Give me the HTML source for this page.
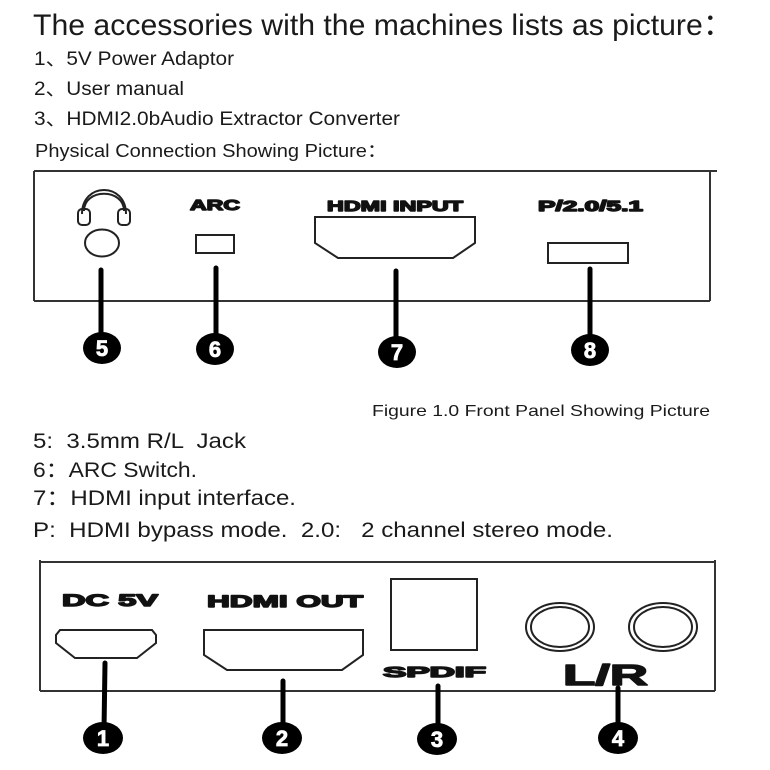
<!DOCTYPE html>
<html><head><meta charset="utf-8"><style>
html,body{margin:0;padding:0;background:#fff;}
svg{display:block;}
text{white-space:pre;}
.t{font-family:"Liberation Sans","Noto Sans CJK SC",sans-serif;fill:#1a1a1a;}
.b{font-family:"Liberation Sans",sans-serif;font-weight:bold;fill:#111;stroke:#111;stroke-width:1.4;stroke-linejoin:round;}
.n{font-family:"Liberation Sans",sans-serif;font-weight:bold;fill:#fff;font-size:22px;stroke:#fff;stroke-width:0.8;}
</style></head><body>
<svg width="770" height="770" viewBox="0 0 770 770" xmlns="http://www.w3.org/2000/svg">
<text class="t" x="33" y="35" font-size="30" textLength="700" lengthAdjust="spacingAndGlyphs">The accessories with the machines lists as picture：</text>
<text class="t" x="34" y="65" font-size="19" textLength="200" lengthAdjust="spacingAndGlyphs">1、5V Power Adaptor</text>
<text class="t" x="34" y="95" font-size="19" textLength="150" lengthAdjust="spacingAndGlyphs">2、User manual</text>
<text class="t" x="34" y="125" font-size="19" textLength="366" lengthAdjust="spacingAndGlyphs">3、HDMI2.0bAudio Extractor Converter</text>
<text class="t" x="35" y="157" font-size="18" textLength="352" lengthAdjust="spacingAndGlyphs">Physical Connection Showing Picture：</text>

<g stroke="#333" stroke-width="2" fill="none">
<line x1="34" y1="171" x2="717" y2="171"/>
<line x1="34" y1="171" x2="34" y2="301"/>
<line x1="34" y1="301" x2="710" y2="301"/>
<line x1="710" y1="170" x2="710" y2="301"/>
</g>
<g stroke="#222" stroke-width="2" fill="none">
<path d="M82,214 C82,182 126,182 126,214"/>
<path d="M84,211 C84,188 124,188 124,211"/>
<rect x="78" y="209" width="12" height="16" rx="4"/>
<rect x="118" y="209" width="12" height="16" rx="4"/>
<ellipse cx="102" cy="243" rx="17" ry="13.5"/>
<rect x="196" y="235" width="38" height="18"/>
<path d="M315,217 H475 V243 L453,258 H338 L315,243 Z"/>
<rect x="548" y="243" width="80" height="20"/>
</g>
<text class="b" x="190" y="210" font-size="15" textLength="50" lengthAdjust="spacingAndGlyphs">ARC</text>
<text class="b" x="327" y="211" font-size="15" textLength="136" lengthAdjust="spacingAndGlyphs">HDMI INPUT</text>
<text class="b" x="538" y="211" font-size="15" textLength="105" lengthAdjust="spacingAndGlyphs">P/2.0/5.1</text>
<g stroke="#000" stroke-width="5" stroke-linecap="round">
<line x1="101" y1="270" x2="101" y2="340"/>
<line x1="216" y1="268" x2="216" y2="340"/>
<line x1="396" y1="271" x2="396" y2="342"/>
<line x1="590" y1="269" x2="590" y2="340"/>
</g>
<g fill="#000">
<ellipse cx="102" cy="348" rx="19" ry="16"/>
<ellipse cx="215" cy="349" rx="19" ry="16"/>
<ellipse cx="397" cy="352" rx="19" ry="16"/>
<ellipse cx="590" cy="350" rx="19" ry="16"/>
</g>
<text class="n" x="102" y="356" text-anchor="middle">5</text>
<text class="n" x="215" y="357" text-anchor="middle">6</text>
<text class="n" x="397" y="360" text-anchor="middle">7</text>
<text class="n" x="590" y="358" text-anchor="middle">8</text>

<text class="t" x="372" y="416" font-size="16" textLength="338" lengthAdjust="spacingAndGlyphs">Figure 1.0 Front Panel Showing Picture</text>
<text class="t" x="33" y="448" font-size="21" textLength="213" lengthAdjust="spacingAndGlyphs">5:  3.5mm R/L  Jack</text>
<text class="t" x="33" y="477" font-size="21" textLength="164" lengthAdjust="spacingAndGlyphs">6：ARC Switch.</text>
<text class="t" x="33" y="505" font-size="21" textLength="263" lengthAdjust="spacingAndGlyphs">7：HDMI input interface.</text>
<text class="t" x="33" y="537" font-size="21" textLength="580" lengthAdjust="spacingAndGlyphs">P:  HDMI bypass mode.  2.0:   2 channel stereo mode.</text>

<g stroke="#333" stroke-width="2" fill="none">
<line x1="40" y1="562" x2="715" y2="562"/>
<line x1="40" y1="560" x2="40" y2="691"/>
<line x1="40" y1="691" x2="715" y2="691"/>
<line x1="715" y1="560" x2="715" y2="691"/>
</g>
<g stroke="#222" stroke-width="2" fill="none">
<path d="M60,630 H152 L156,635 V643 L137,658 H75 L56,643 V635 Z"/>
<path d="M204,630 H363 V655 L342,670 H227 L204,655 Z"/>
<rect x="391" y="579" width="86" height="71"/>
<ellipse cx="560" cy="627" rx="34" ry="24"/>
<ellipse cx="560" cy="627" rx="29" ry="20"/>
<ellipse cx="663" cy="627" rx="34" ry="24"/>
<ellipse cx="663" cy="627" rx="29" ry="20"/>
</g>
<text class="b" x="62" y="606" font-size="17" textLength="96" lengthAdjust="spacingAndGlyphs">DC 5V</text>
<text class="b" x="207" y="607" font-size="17" textLength="156" lengthAdjust="spacingAndGlyphs">HDMI OUT</text>
<text class="b" x="383" y="677" font-size="15" textLength="103" lengthAdjust="spacingAndGlyphs">SPDIF</text>
<text class="b" x="563" y="685" font-size="29" textLength="85" lengthAdjust="spacingAndGlyphs">L/R</text>
<g stroke="#000" stroke-width="5" stroke-linecap="round">
<line x1="105" y1="663" x2="104" y2="730"/>
<line x1="283" y1="681" x2="283" y2="730"/>
<line x1="438" y1="686" x2="438" y2="730"/>
<line x1="618" y1="688" x2="618" y2="730"/>
</g>
<g fill="#000">
<ellipse cx="103" cy="738" rx="20" ry="16"/>
<ellipse cx="282" cy="738" rx="20" ry="16"/>
<ellipse cx="437" cy="739" rx="20" ry="16"/>
<ellipse cx="618" cy="738" rx="20" ry="16"/>
</g>
<text class="n" x="103" y="746" text-anchor="middle">1</text>
<text class="n" x="282" y="746" text-anchor="middle">2</text>
<text class="n" x="437" y="747" text-anchor="middle">3</text>
<text class="n" x="618" y="746" text-anchor="middle">4</text>
</svg>
</body></html>
